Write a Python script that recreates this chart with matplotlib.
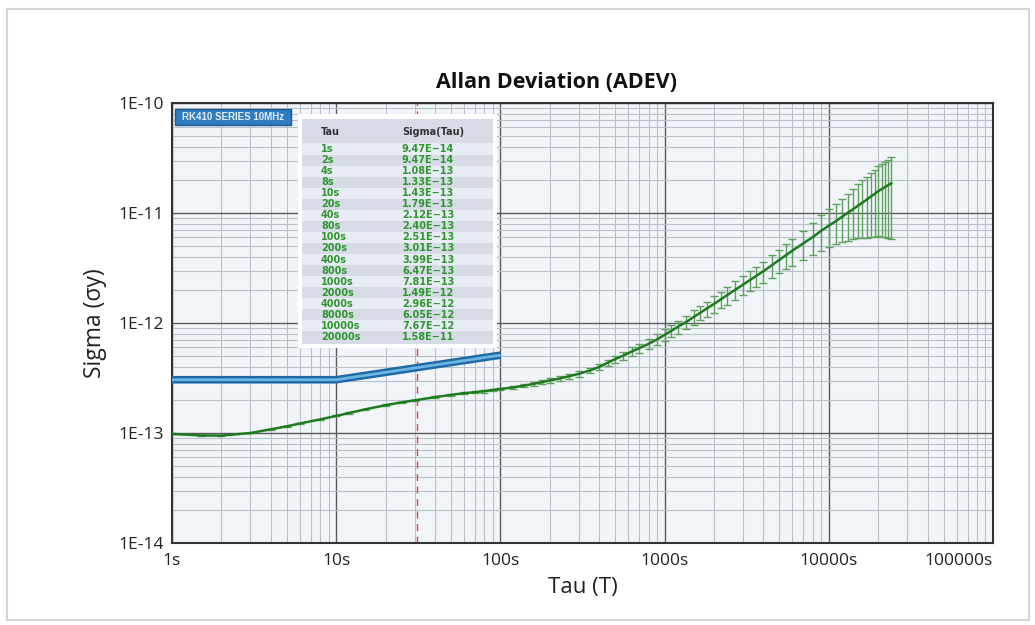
import matplotlib
matplotlib.use("Agg")
import matplotlib.pyplot as plt
from matplotlib.patches import Rectangle
from matplotlib.ticker import LogLocator, NullFormatter

plt.rcParams['font.family'] = ['Open Sans', 'DejaVu Sans']

# ADEV curve
tau = [1, 1.5, 2, 3, 4, 5, 6, 8, 10, 12, 15, 20, 25, 30, 40, 50, 60, 70, 80, 90, 100,
       120, 140, 160, 180, 200, 230, 260, 300, 350, 400, 450, 500, 560, 630, 700, 800, 900, 1000,
       1100, 1200, 1350, 1500, 1650, 1800, 2000, 2200, 2400, 2700, 3000, 3300, 3600, 4000,
       4500, 5000, 5500, 6000, 7000, 8000, 9000, 10000,
       11000, 12000, 13000, 14000, 15000, 16000, 17000, 18000, 19000, 20000,
       21000, 22000, 23000, 24000]
sigma = [9.8e-14, 9.5e-14, 9.47e-14, 1.0e-13, 1.08e-13, 1.15e-13, 1.22e-13, 1.33e-13, 1.43e-13,
         1.52e-13, 1.64e-13, 1.79e-13, 1.90e-13, 1.98e-13, 2.12e-13, 2.22e-13, 2.30e-13, 2.35e-13,
         2.40e-13, 2.46e-13, 2.51e-13,
         2.60e-13, 2.70e-13, 2.80e-13, 2.90e-13, 3.01e-13, 3.13e-13, 3.27e-13, 3.45e-13, 3.70e-13,
         3.99e-13, 4.35e-13, 4.70e-13, 5.05e-13, 5.5e-13, 5.9e-13, 6.47e-13, 7.1e-13, 7.81e-13,
         8.5e-13, 9.2e-13, 1.02e-12, 1.13e-12, 1.24e-12, 1.35e-12, 1.49e-12, 1.64e-12, 1.79e-12,
         2.01e-12, 2.23e-12, 2.45e-12, 2.67e-12, 2.96e-12,
         3.35e-12, 3.75e-12, 4.15e-12, 4.55e-12, 5.3e-12, 6.05e-12, 6.9e-12, 7.67e-12,
         8.4e-12, 9.2e-12, 1.0e-11, 1.08e-11, 1.16e-11, 1.24e-11, 1.32e-11, 1.41e-11, 1.49e-11,
         1.58e-11, 1.65e-11, 1.72e-11, 1.79e-11, 1.86e-11]
# relative error bar sizes (up / down)
err_up = [0.01] * 9 + [0.015] * 5 + [0.02, 0.02, 0.025, 0.025, 0.03, 0.03, 0.03] + \
         [0.035, 0.035, 0.04, 0.04, 0.045, 0.05, 0.05, 0.055, 0.06, 0.065, 0.07, 0.075, 0.08,
          0.09, 0.095, 0.1, 0.11, 0.12] + \
         [0.13, 0.13, 0.14, 0.15, 0.15, 0.16, 0.17, 0.17, 0.18, 0.19, 0.2, 0.2, 0.21, 0.22,
          0.23, 0.24, 0.25, 0.27, 0.3, 0.34, 0.38, 0.42] + \
         [0.44, 0.47, 0.5, 0.54, 0.57, 0.6, 0.62, 0.64, 0.66, 0.68, 0.69, 0.7, 0.71, 0.72]
err_dn = [0.01] * 9 + [0.015] * 5 + [0.02, 0.02, 0.025, 0.025, 0.03, 0.03, 0.03] + \
         [0.035, 0.035, 0.04, 0.04, 0.045, 0.05, 0.05, 0.055, 0.06, 0.065, 0.07, 0.075, 0.08,
          0.09, 0.095, 0.1, 0.11, 0.12] + \
         [0.13, 0.13, 0.14, 0.15, 0.15, 0.16, 0.17, 0.17, 0.18, 0.19, 0.2, 0.2, 0.21, 0.22,
          0.23, 0.24, 0.25, 0.27, 0.3, 0.32, 0.34, 0.36] + \
         [0.38, 0.41, 0.44, 0.46, 0.49, 0.52, 0.55, 0.57, 0.59, 0.61, 0.63, 0.65, 0.67, 0.69]

# spec mask (blue)
mask_tau = [1, 10, 100]
mask_sigma = [3.05e-13, 3.05e-13, 5.1e-13]

marker_tau = 31

# table in the inset
tbl_tau = ['1s', '2s', '4s', '8s', '10s', '20s', '40s', '80s', '100s', '200s', '400s',
           '800s', '1000s', '2000s', '4000s', '8000s', '10000s', '20000s']
tbl_sigma = ['9.47E\u221214', '9.47E\u221214', '1.08E\u221213', '1.33E\u221213', '1.43E\u221213',
             '1.79E\u221213', '2.12E\u221213', '2.40E\u221213', '2.51E\u221213', '3.01E\u221213',
             '3.99E\u221213', '6.47E\u221213', '7.81E\u221213', '1.49E\u221212', '2.96E\u221212',
             '6.05E\u221212', '7.67E\u221212', '1.58E\u221211']

xticks = [1, 10, 100, 1000, 10000, 100000]
xlabels = ['1s', '10s', '100s', '1000s', '10000s', '100000s']
yticks = [1e-14, 1e-13, 1e-12, 1e-11, 1e-10]
ylabels = ['1E-14', '1E-13', '1E-12', '1E-11', '1E-10']

W, H = 1035, 625
fig = plt.figure(figsize=(W / 100, H / 100), dpi=100)
fig.patch.set_facecolor('white')

def px(x0, y0, x1, y1):
    return [x0 / W, 1 - y1 / H, (x1 - x0) / W, (y1 - y0) / H]

ax = fig.add_axes(px(172, 103, 993, 543))
ax.set_facecolor('#f1f5fa')
ax.set_xscale('log')
ax.set_yscale('log')
ax.set_xlim(1, 100000)
ax.set_ylim(1e-14, 1e-10)

ax.xaxis.set_minor_locator(LogLocator(base=10, subs=range(2, 10), numticks=20))
ax.yaxis.set_minor_locator(LogLocator(base=10, subs=range(2, 10), numticks=20))
ax.xaxis.set_minor_formatter(NullFormatter())
ax.yaxis.set_minor_formatter(NullFormatter())
ax.set_xticks(xticks)
ax.set_xticklabels(xlabels)
ax.set_yticks(yticks)
ax.set_yticklabels(ylabels)
ax.tick_params(which='both', length=0, labelsize=12.5, colors='#222222')
ax.tick_params(axis='x', pad=7)
ax.tick_params(axis='y', pad=6)
ax.get_xticklabels()[-1].set_horizontalalignment('right')
ax.grid(which='major', color='#5a5a5a', lw=1.0)
ax.grid(which='minor', color='#b9c0c9', lw=0.8)
ax.set_axisbelow(True)
for s in ax.spines.values():
    s.set_color('#333333')
    s.set_linewidth(1.5)

ax.axvline(marker_tau, color='#e04545', lw=1, ls=(0, (5, 4)), zorder=2)

ax.plot(mask_tau, mask_sigma, color='#1f6aa5', lw=5.5, solid_capstyle='butt', zorder=3)
ax.plot(mask_tau, mask_sigma, color='#6cb6e4', lw=2, solid_capstyle='butt', zorder=3)

lo = [s * d for s, d in zip(sigma, err_dn)]
hi = [s * u for s, u in zip(sigma, err_up)]
ax.errorbar(tau, sigma, yerr=[lo, hi], fmt='none', ecolor='#5f9f5f', elinewidth=1,
            capsize=3, capthick=1, zorder=4)
ax.plot(tau, sigma, color='#1f7a1f', lw=1.8, zorder=5)

fig.text(557 / W, 1 - 82 / H, 'Allan Deviation (ADEV)', ha='center', va='center',
         fontsize=15.5, fontweight='bold', color='#111111')
ax.set_xlabel('Tau (T)', fontsize=16, labelpad=6, color='#222222')
ax.set_ylabel('Sigma (\u03c3y)', fontsize=16.5, labelpad=8, color='#222222')

# series label box
fig.add_artist(Rectangle((175 / W, 1 - 125 / H), 116 / W, 16 / H, transform=fig.transFigure,
                         facecolor='#2f7cbf', edgecolor='#1c5a90', lw=1))
fig.text(233 / W, 1 - 117 / H, 'RK410 SERIES 10MHz', ha='center', va='center',
         fontsize=7, fontweight='bold', color='#e3edf8',
         family=['Liberation Sans Narrow', 'Liberation Sans', 'DejaVu Sans'])

# inset table
tx = fig.add_axes(px(298, 114, 497, 348))
tx.set_xlim(0, 199)
tx.set_ylim(234, 0)
tx.axis('off')
tx.add_patch(Rectangle((0, 0), 199, 234, facecolor='white', edgecolor='none'))
tx.add_patch(Rectangle((4, 5), 191, 225, facecolor='#d6dbe5', edgecolor='none'))
tfont = ['DejaVu Sans']
tx.text(23, 18.5, 'Tau', fontsize=7, fontweight='bold', color='#333333', va='center',
        family=tfont)
tx.text(104, 18.5, 'Sigma(Tau)', fontsize=7, fontweight='bold', color='#333333', va='center',
        family=tfont)
row_h = 11.05
for i, (t, s) in enumerate(zip(tbl_tau, tbl_sigma)):
    y0 = 29.5 + i * row_h
    if i % 2 == 0:
        tx.add_patch(Rectangle((4, y0), 191, row_h, facecolor='#e8ecf4', edgecolor='none'))
    tx.text(23, y0 + row_h / 2, t, fontsize=7, fontweight='bold', color='#2f962f',
            va='center', family=tfont)
    tx.text(104, y0 + row_h / 2, s, fontsize=7, fontweight='bold', color='#2f962f',
            va='center', family=tfont)

# outer frame
fig.add_artist(Rectangle((7 / W, 1 - 620 / H), 1022 / W, 611 / H, transform=fig.transFigure,
                         facecolor='none', edgecolor='#d4d4d4', lw=1.5))

fig.savefig('out.png', dpi=100)
